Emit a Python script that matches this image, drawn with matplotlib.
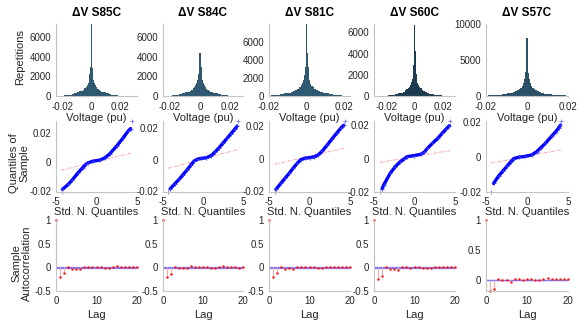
import numpy as np
import matplotlib
matplotlib.use("Agg")
import matplotlib.pyplot as plt

plt.rcParams['font.family'] = ['Liberation Sans', 'DejaVu Sans']

W, H = 577, 325

titles = ["ΔV S85C", "ΔV S84C", "ΔV S81C", "ΔV S60C", "ΔV S57C"]

# ---- histogram of voltage deviations (shared bin edges, counts per bin)
hist_edges = [-0.026, -0.022, -0.019, -0.016, -0.014, -0.012, -0.010, -0.0085, -0.007,
              -0.006, -0.005, -0.004, -0.0032, -0.0025, -0.0019, -0.0014, -0.001, -0.0006,
              -0.00025, 0.00025, 0.0006, 0.001, 0.0014, 0.0019, 0.0025, 0.0032, 0.004,
              0.005, 0.006, 0.007, 0.0085, 0.010, 0.012, 0.014, 0.016, 0.019, 0.022, 0.026]
hist_s85c = [20, 45, 85, 150, 210, 280, 370, 460, 560, 660, 780, 930, 1100, 1350, 1700, 2200, 3000, 4400,
             7300,
             4300, 2900, 2150, 1650, 1300, 1080, 900, 760, 650, 550, 450, 360, 270, 200, 140, 80, 40, 15]
hist_s84c = [18, 40, 80, 140, 200, 270, 360, 450, 550, 650, 770, 920, 1100, 1330, 1680, 2200, 3000, 4400,
             7350,
             4350, 2950, 2150, 1650, 1300, 1080, 900, 760, 640, 540, 440, 350, 260, 190, 130, 75, 35, 12]
hist_s81c = [15, 40, 80, 145, 210, 285, 380, 470, 580, 690, 820, 980, 1170, 1430, 1800, 2350, 3250, 4800,
             8000,
             4750, 3200, 2300, 1750, 1380, 1140, 950, 800, 680, 570, 470, 370, 280, 205, 140, 80, 38, 12]
hist_s60c = [10, 25, 55, 110, 170, 240, 330, 420, 520, 620, 740, 890, 1060, 1300, 1650, 2150, 2950, 4300,
             6750,
             4250, 2900, 2100, 1620, 1270, 1040, 860, 720, 610, 510, 410, 320, 230, 160, 100, 50, 22, 8]
hist_s57c = [15, 40, 80, 140, 200, 270, 360, 450, 560, 670, 800, 960, 1150, 1420, 1800, 2400, 3300, 4900,
             8000,
             4850, 3250, 2350, 1780, 1400, 1150, 950, 790, 660, 550, 440, 340, 250, 180, 120, 70, 32, 10]
hist_counts = [hist_s85c, hist_s84c, hist_s81c, hist_s60c, hist_s57c]
hist_xlim = [(-0.0249, 0.032), (-0.0247, 0.0287), (-0.0200, 0.0230), (-0.0290, 0.0286), (-0.0200, 0.0195)]
hist_ymax = [7350, 7350, 8000, 6800, 10000]
hist_yticks = [[0, 2000, 4000, 6000]] * 4 + [[0, 5000, 10000]]
hist_colors = ['#2f5871', '#2f5871', '#2f5871', '#1d3b4f', '#2b5068']

# ---- normal probability (Q-Q) curves: theoretical quantile vs sample quantile
qq_x_s85c = [-4.2, -3.5, -3.0, -2.27, -1.7, -1.32, -1.03, -0.41, 0.41, 1.03, 1.65, 2.48, 3.3, 3.9, 4.2]
qq_y_s85c = [-0.0189, -0.0155, -0.0125, -0.0075, -0.0040, -0.0018, -0.0007, 0.00045, 0.0011, 0.0027,
             0.0055, 0.0107, 0.0164, 0.0210, 0.0227]
qq_x_s84c = [-4.1, -3.5, -3.0, -2.5, -2.0, -1.5, -1.1, -0.7, -0.2, 0.4, 1.0, 1.5, 2.0, 2.5, 3.0, 3.5, 4.0, 4.25]
qq_y_s84c = [-0.0185, -0.0152, -0.0125, -0.0095, -0.0065, -0.0033, -0.0008, 0.0003, 0.0008, 0.0012,
             0.0025, 0.0048, 0.0075, 0.0105, 0.0135, 0.0165, 0.0195, 0.0212]
qq_x_s81c = [-4.15, -3.5, -3.0, -2.5, -2.0, -1.5, -1.1, -0.6, 0.0, 0.6, 1.1, 1.6, 2.2, 2.8, 3.4, 3.9, 4.2]
qq_y_s81c = [-0.0190, -0.0150, -0.0120, -0.0090, -0.0058, -0.0028, -0.0007, 0.0002, 0.0006, 0.0011,
             0.0024, 0.0048, 0.0085, 0.0123, 0.0160, 0.0190, 0.0205]
qq_x_s60c = [-4.0, -3.8, -3.0, -2.4, -1.76, -1.3, -0.92, -0.08, 0.76, 1.2, 1.6, 2.2, 2.86, 3.4, 3.9, 4.3]
qq_y_s60c = [-0.0180, -0.0158, -0.0088, -0.0050, -0.0019, -0.0003, 0.0011, 0.0017, 0.0025, 0.0038,
             0.0061, 0.0090, 0.0120, 0.0150, 0.0176, 0.0196]
qq_x_s57c = [-4.08, -3.47, -2.95, -2.45, -2.0, -1.63, -1.0, -0.2, 0.6, 1.2, 1.7, 2.24, 3.06, 3.5, 3.88, 4.08]
qq_y_s57c = [-0.0151, -0.0109, -0.0080, -0.0053, -0.0028, -0.0009, 0.0000, 0.0004, 0.0013, 0.0032,
             0.0055, 0.0079, 0.0123, 0.0146, 0.0168, 0.0183]
qq_x = [qq_x_s85c, qq_x_s84c, qq_x_s81c, qq_x_s60c, qq_x_s57c]
qq_y = [qq_y_s85c, qq_y_s84c, qq_y_s81c, qq_y_s60c, qq_y_s57c]
# isolated extreme samples at both ends
qq_tail_x = [[-4.3, 4.34], [-4.35, 4.4], [-4.3, 4.35], [-4.24, 4.35], [-4.37, 4.12]]
qq_tail_y = [[-0.0207, 0.0279], [-0.0205, 0.0245], [-0.0206, 0.0232], [-0.0200, 0.0224], [-0.0200, 0.0207]]
# fitted reference line (end points)
qq_ref_x = [[-4.3, 4.34], [-4.35, 4.4], [-4.3, 4.35], [-4.24, 4.35], [-4.37, 4.12]]
qq_ref_y = [[-0.0057, 0.0061], [-0.0055, 0.0065], [-0.0035, 0.0065], [-0.0023, 0.0047], [-0.0034, 0.0042]]

# ---- sample autocorrelation, lags 0..20
lags = list(range(21))
acf_s85c = [1, -0.214, -0.13, 0.014, -0.03, -0.03, -0.036, 0.014, 0.0, 0.0, 0.014, 0.007, -0.007,
            -0.014, 0.007, 0.02, 0.007, 0.007, 0.007, 0.0, 0.007]
acf_s84c = [1, -0.21, -0.14, 0.0, -0.02, -0.02, -0.005, 0.028, 0.0, 0.0, 0.007, 0.014, -0.014,
            -0.014, 0.007, 0.028, 0.007, 0.0, 0.014, -0.014, 0.0]
acf_s81c = [1, -0.20, -0.13, 0.01, -0.025, -0.02, -0.03, 0.015, 0.005, 0.0, 0.01, 0.005, -0.01,
            -0.005, 0.01, 0.015, 0.005, 0.005, 0.01, 0.0, 0.005]
acf_s60c = [1, -0.24, -0.18, 0.0, -0.03, -0.03, -0.05, 0.0, 0.0, -0.02, 0.0, 0.0, -0.014,
            -0.02, -0.007, 0.007, 0.0, 0.0, 0.0, 0.0, 0.0]
acf_s57c = [1, -0.178, -0.15, 0.017, -0.006, -0.006, -0.033, 0.022, 0.022, 0.006, 0.017, 0.011, 0.006,
            0.006, 0.017, 0.028, 0.011, 0.011, 0.011, 0.011, 0.011]
acf_vals = [acf_s85c, acf_s84c, acf_s81c, acf_s60c, acf_s57c]
acf_bound = 0.006
acf_ylim = [(-0.5, 1), (-0.5, 1), (-0.5, 1), (-0.5, 1), (-0.185, 1)]
acf_yticks = [[-0.5, 0, 0.5, 1]] * 4 + [[0, 0.5, 1]]

# ---- layout (pixel boxes)
col_lr = [(56, 137), (163, 243), (269, 350), (374, 455), (486, 568)]
row_tb = [(24, 96), (121, 192), (220, 291)]

fig = plt.figure(figsize=(W / 100, H / 100), dpi=100)
fig.patch.set_facecolor('white')

TICK_FS = 7
LABEL_FS = 8
TXT = '#262626'
SPINE = '#c4c4c4'


def make_ax(col, row, xpad=3.5):
    l, r = col_lr[col]
    t, b = row_tb[row]
    ax = fig.add_axes([l / W, 1 - b / H, (r - l) / W, (b - t) / H])
    for s in ('top', 'right'):
        ax.spines[s].set_visible(False)
    for s in ('left', 'bottom'):
        ax.spines[s].set_color(SPINE)
        ax.spines[s].set_linewidth(0.8)
    ax.tick_params(length=0, labelsize=TICK_FS, colors=TXT, pad=3.5)
    ax.tick_params(axis='x', pad=xpad)
    ax.set_facecolor('white')
    return ax


def fmt_num(v):
    if v == 0:
        return '0'
    return '%g' % v


for i in range(5):
    l, r = col_lr[i]
    cx = (l + r) / 2

    # histogram
    ax = make_ax(i, 0, xpad=4.0)
    ax.stairs(hist_counts[i], hist_edges, fill=True, color=hist_colors[i], linewidth=0)
    ax.set_xlim(*hist_xlim[i])
    ax.set_ylim(0, hist_ymax[i])
    ax.set_xticks([-0.02, 0, 0.02])
    ax.set_xticklabels([fmt_num(v) for v in [-0.02, 0, 0.02]])
    ax.set_yticks(hist_yticks[i])
    ax.set_yticklabels([fmt_num(v) for v in hist_yticks[i]])
    fig.text(cx / W, 1 - 13 / H, titles[i], ha='center', va='center',
             fontsize=8.5, fontweight='bold', color='black')
    fig.text(cx / W, 1 - 117.5 / H, 'Voltage (pu)', ha='center', va='center',
             fontsize=LABEL_FS, color=TXT)

    # Q-Q plot
    ax = make_ax(i, 1)
    ax.plot(qq_ref_x[i], qq_ref_y[i], linestyle=(0, (3, 1.5, 1, 1.5)), color='#ff9c9c', linewidth=0.7)
    ax.plot(qq_x[i], qq_y[i], color='#0000ff', linewidth=2.4, solid_capstyle='round')
    ax.plot(qq_x[i], qq_y[i], linestyle='none', marker='+', markersize=2.5,
            color='#3030ff', markeredgewidth=0.6)
    ax.plot(qq_tail_x[i], qq_tail_y[i], linestyle='none', marker='+', markersize=3,
            color='#7070ff', markeredgewidth=0.6, clip_on=False)
    ax.set_xlim(-5, 5)
    ax.set_ylim(min(qq_tail_y[i]), max(qq_tail_y[i]))
    ax.set_xticks([-5, 0, 5])
    ax.set_yticks([-0.02, 0, 0.02])
    ax.set_yticklabels([fmt_num(v) for v in [-0.02, 0, 0.02]])
    ax.set_xticklabels([fmt_num(v) for v in [-5, 0, 5]])
    fig.text(cx / W, 1 - 212 / H, 'Std. N. Quantiles', ha='center', va='center',
             fontsize=LABEL_FS, color=TXT)

    # autocorrelation
    ax = make_ax(i, 2)
    ax.plot([0, 20], [acf_bound, acf_bound], color='#7b7bf5', linewidth=0.9)
    ax.plot([0, 20], [-acf_bound, -acf_bound], color='#7b7bf5', linewidth=0.9)
    ax.vlines(lags, 0, acf_vals[i], color='#ffa8a8', linewidth=0.8, clip_on=False)
    ax.plot(lags, acf_vals[i], linestyle='none', marker='o', markersize=1.8,
            color='#ff1a1a', markeredgewidth=0, clip_on=False)
    ax.set_xlim(0, 20)
    ax.set_ylim(*acf_ylim[i])
    ax.set_xticks([0, 10, 20])
    ax.set_yticks(acf_yticks[i])
    ax.set_yticklabels([fmt_num(v) for v in acf_yticks[i]])
    fig.text(cx / W, 1 - 315 / H, 'Lag', ha='center', va='center',
             fontsize=LABEL_FS, color=TXT)

fig.text(20 / W, 1 - 57 / H, 'Repetitions', rotation=90, ha='center', va='center',
         fontsize=LABEL_FS, color=TXT)
fig.text(19 / W, 1 - 163 / H, 'Quantiles of\nSample', rotation=90, ha='center', va='center',
         fontsize=LABEL_FS, color=TXT, multialignment='center', linespacing=1.1)
fig.text(22 / W, 1 - 263 / H, 'Sample\nAutocorrelation', rotation=90, ha='center', va='center',
         fontsize=LABEL_FS, color=TXT, multialignment='center', linespacing=1.1)

fig.savefig('out.png', dpi=100, facecolor='white')
